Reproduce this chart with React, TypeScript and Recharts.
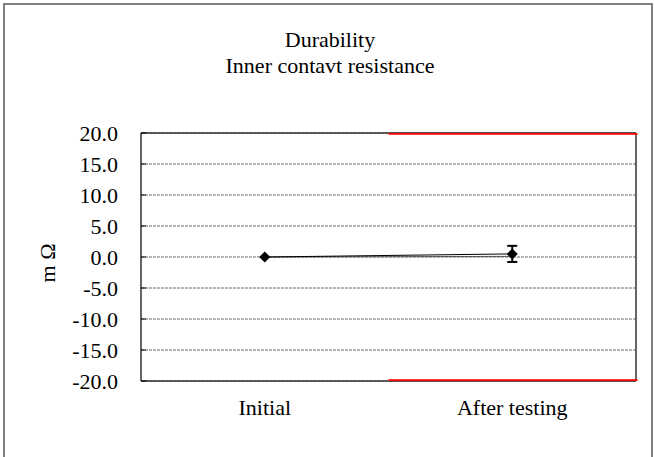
import React from "react";
import {
  ComposedChart,
  Line,
  Bar,
  XAxis,
  YAxis,
  CartesianGrid,
  ErrorBar,
} from "recharts";

const categories = ["Initial", "After testing"];
const meanValues = [0.0, 0.5];
const errorValues: (number | null)[] = [null, 1.3];
const lowValues = [0.0, 0.1];
const lowerLimit: (number | null)[] = [null, -20];
const upperLimit: (number | null)[] = [null, 20];
const yTicks = [-20, -15, -10, -5, 0, 5, 10, 15, 20];

const data = categories.map((name, i) => ({
  name,
  mean: meanValues[i],
  err: errorValues[i],
  low: lowValues[i],
  limits: upperLimit[i] == null ? null : [lowerLimit[i], upperLimit[i]],
}));

const FONT = "'Liberation Serif', 'Times New Roman', serif";

// diamond marker
const Diamond = (props: any) => {
  const { cx, cy } = props;
  if (cx == null || cy == null) return null;
  const r = 5.5;
  return (
    <polygon
      key={`d-${cx}`}
      points={`${cx},${cy - r} ${cx + r},${cy} ${cx},${cy + r} ${cx - r},${cy}`}
      fill="#000"
    />
  );
};

// spec limits: red lines on top and bottom of the band
const LimitShape = (props: any) => {
  const { x, y, width, height } = props;
  if (x == null || !width) return null;
  const top = Math.min(y, y + height);
  const bottom = Math.max(y, y + height);
  return (
    <g>
      <line x1={x} x2={x + width + 1} y1={top} y2={top} stroke="#ff0000" strokeWidth={3.5} />
      <line x1={x} x2={x + width + 1} y1={bottom} y2={bottom} stroke="#ff0000" strokeWidth={3.5} />
    </g>
  );
};

const YLabel = (props: any) => {
  const { viewBox } = props;
  const x = viewBox.x + 47;
  const y = viewBox.y + viewBox.height / 2 + 6;
  return (
    <text
      x={x}
      y={y}
      transform={`rotate(-90, ${x}, ${y})`}
      textAnchor="middle"
      dominantBaseline="central"
      fill="#000"
      fontSize={22}
      fontFamily={FONT}
    >
      m Ω
    </text>
  );
};

const frameRows = ({ offset }: any) => [offset.top, offset.top + offset.height];
const frameCols = ({ offset }: any) => [offset.left, offset.left + offset.width];

export default function App() {
  return (
    <div style={{ position: "absolute", left: 0, top: 0, width: 654, height: 457, background: "#fff", fontFamily: FONT }}>
      <div
        style={{
          position: "absolute",
          left: 3,
          top: 3,
          width: 646,
          height: 470,
          border: "2px solid #7f7f7f",
        }}
      />
      <div style={{ position: "absolute", left: 0, top: 27, width: 660, textAlign: "center", fontSize: 22, lineHeight: "26px", color: "#000" }}>
        <div>Durability</div>
        <div>Inner contavt resistance</div>
      </div>
      <ComposedChart
        width={654}
        height={457}
        data={data}
        margin={{ top: 133, right: 18, bottom: 0, left: 0 }}
        barCategoryGap={0}
        style={{ position: "absolute", left: 0, top: 0 }}
      >
        <CartesianGrid vertical={false} stroke="#6a6a6a" strokeDasharray="3 1" />
        <CartesianGrid
          stroke="#333"
          strokeWidth={1.5}
          horizontalCoordinatesGenerator={frameRows}
          verticalCoordinatesGenerator={frameCols}
        />
        <XAxis
          dataKey="name"
          height={76}
          axisLine={false}
          tickLine={false}
          tickSize={0}
          tickMargin={18}
          tick={{ fill: "#000", fontSize: 22, fontFamily: FONT }}
        />
        <YAxis
          width={141}
          domain={[-20, 20]}
          ticks={yTicks}
          allowDataOverflow
          tickFormatter={(v: number) => v.toFixed(1)}
          axisLine={false}
          tickLine={{ stroke: "#000", strokeWidth: 1 }}
          tickSize={-5}
          tickMargin={28}
          tick={{ fill: "#000", fontSize: 22, fontFamily: FONT }}
          label={YLabel}
        />
        <Bar dataKey="limits" shape={<LimitShape />} isAnimationActive={false} />
        <Line
          dataKey="low"
          stroke="#555"
          strokeWidth={1}
          dot={false}
          activeDot={false}
          isAnimationActive={false}
        />
        <Line
          dataKey="mean"
          stroke="#000"
          strokeWidth={1}
          dot={<Diamond />}
          activeDot={false}
          isAnimationActive={false}
        >
          <ErrorBar dataKey="err" width={5} stroke="#000" strokeWidth={2} direction="y" />
        </Line>
      </ComposedChart>
    </div>
  );
}
